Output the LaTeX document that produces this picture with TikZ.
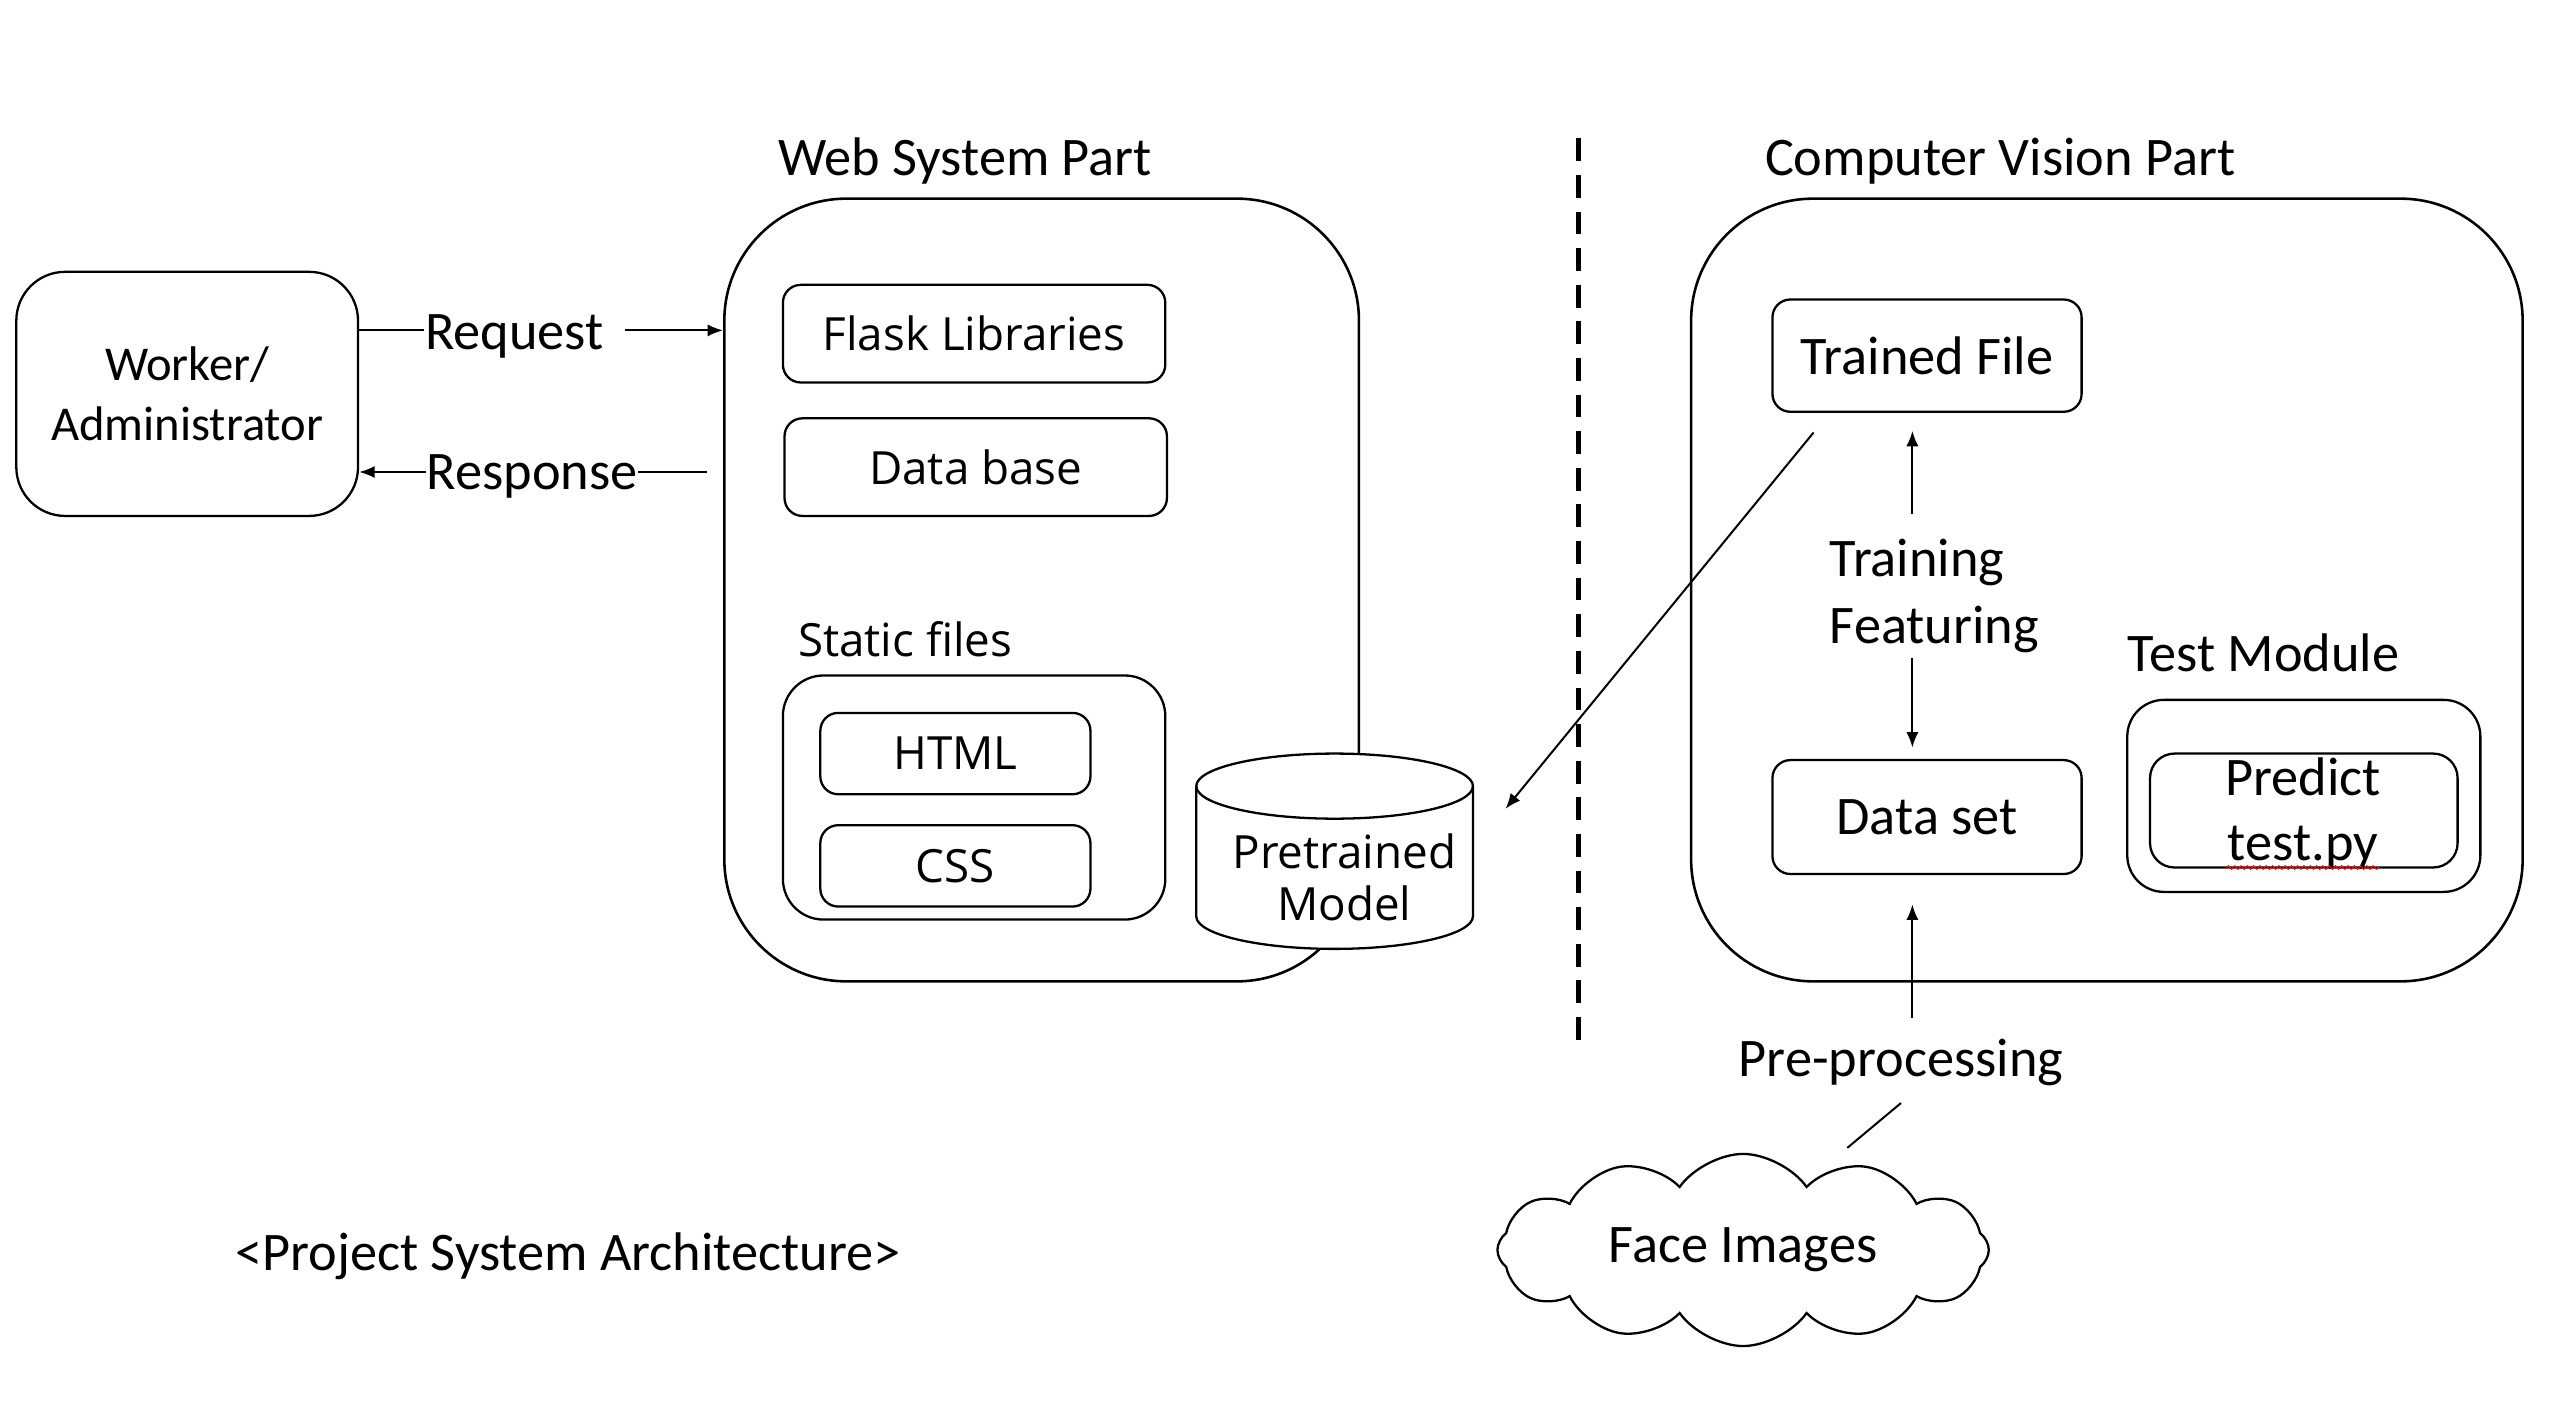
\documentclass[tikz,border=0pt]{standalone}
\usepackage{fontspec}
\setmainfont{Carlito}
\newfontfamily\webfont{Open Sans}
\usetikzlibrary{shapes.symbols,calc,decorations.pathmorphing,arrows.meta}

\begin{document}
\begin{tikzpicture}[x=0.02cm, y=0.02cm,
					every node/.style={font=\fontsize{19}{23.3}\selectfont},
					txt/.style={inner sep=0pt},
					webtxt/.style={font=\webfont\fontsize{16}{19}\selectfont},
					partbox/.style={rectangle,
					rounded corners=1.5cm,
					line width=0.9pt,
					draw=black},
					webbox/.style={rectangle,
					rounded corners=0.22cm,
					line width=0.8pt,
					draw=black,
					font=\webfont\fontsize{16}{19}\selectfont},
					cvbox/.style={rectangle,
					rounded corners=0.22cm,
					line width=0.8pt,
					draw=black},
					flow/.style={-{Latex[length=0.19cm,width=0.15cm]}, line width=0.7pt}
					]

% fixed page size, same proportions as the original slide
\useasboundingbox (0,0) rectangle (1568,-877);

%user node
\node[draw, rounded corners=0.6cm, line width=0.8pt, minimum width=4.2cm, minimum height=3cm,
      align=center, font=\fontsize{17}{21}\selectfont] (worker) at (115,-242) {Worker/\\Administrator};

%web system part
\node[txt] (webtitle) at (593,-99) {Web System Part};
\node[partbox, minimum width=7.8cm, minimum height=9.62cm] (web) at (640,-362.5) {};
\node[webbox, minimum width=4.7cm, minimum height=1.2cm] (flask) at (598.5,-205) {Flask Libraries};
\node[webbox, minimum width=4.7cm, minimum height=1.2cm] (db) at (599.5,-287) {Data base};
\node[txt, webtxt, anchor=west] (statictitle) at (490,-393) {Static files};
\node[draw, rounded corners=0.5cm, line width=0.8pt, minimum width=4.7cm, minimum height=3cm] (static) at (598.5,-490) {};
\node[webbox, minimum width=3.32cm, minimum height=1cm] (html) at (587,-463) {HTML};
\node[webbox, minimum width=3.32cm, minimum height=1cm] (css) at (587,-532) {CSS};

%pretrained model (cylinder covers the corner of the web box)
\coordinate (cyl) at (820,-523);
\draw[fill=white, line width=0.8pt] ($(cyl)+(-85,40)$) -- ($(cyl)+(-85,-40)$)
      arc[start angle=180, end angle=360, x radius=85, y radius=20] -- ($(cyl)+(85,40)$)
      arc[start angle=0, end angle=180, x radius=85, y radius=20] -- cycle;
\draw[line width=0.8pt] ($(cyl)+(-85,40)$) arc[start angle=180, end angle=360, x radius=85, y radius=20];
\node[txt, webtxt, align=center, font=\webfont\fontsize{16}{18}\selectfont] (model) at (826,-539) {Pretrained\\Model};

%request / response
\node[txt] (req) at (316,-207) {Request};
\node[txt] (resp) at (327,-293) {Response};
\draw[line width=0.7pt] (worker.east |- 0,-203) -- (req.west |- 0,-203);
\draw[flow] ($(req.east |- 0,-203)+(13,0)$) -- (web.west |- 0,-203);
\draw[flow] (resp.west |- 0,-290) -- (worker.east |- 0,-290);
\draw[line width=0.7pt] (resp.east |- 0,-290) -- ($(web.west |- 0,-290)+(-10,0)$);

%separator
\draw[line width=1.9pt, dash pattern=on 0.28cm off 0.17cm] (970,-85) -- (970,-640);

%computer vision part
\node[txt] (cvtitle) at (1229,-99) {Computer Vision Part};
\node[partbox, minimum width=10.22cm, minimum height=9.62cm] (cv) at (1294.5,-362.5) {};
\node[cvbox, minimum width=3.8cm, minimum height=1.38cm] (trained) at (1184,-218.5) {Trained File};
\node[txt, align=left, anchor=west] (training) at (1124,-366) {Training\\Featuring};
\node[cvbox, minimum width=3.8cm, minimum height=1.4cm] (dataset) at (1184,-502) {Data set};

\draw[flow] ($(trained.south)+(-9,-62)$) -- ($(trained.south)+(-9,-11)$);
\draw[flow] ($(dataset.north)+(-9,62)$) -- ($(dataset.north)+(-9,7)$);

%trained file goes to the web part
\draw[flow] ($(trained.south west)+(26,-12)$) -- ($(cyl)+(105,26)$);

%test module
\node[txt, anchor=west] (testtitle) at (1307,-401) {Test Module};
\node[draw, rounded corners=0.45cm, line width=0.8pt, minimum width=4.34cm, minimum height=2.36cm] (testbox) at (1415.5,-489) {};
\node[cvbox, rounded corners=0.3cm, minimum width=3.78cm, minimum height=1.4cm] (predict) at (1415.5,-498) {};
\node[txt, align=center, font=\fontsize{19}{22.7}\selectfont] (predicttext) at (1415,-500) {Predict\\test.py};
\draw[red, line width=0.4pt, decorate, decoration={snake, amplitude=0.6pt, segment length=2.2pt}] (1368,-533) -- (1462,-533);

%face images input
\node[txt] (preproc) at (1168,-653) {Pre-processing};
\node[cloud, draw, line width=0.8pt, cloud puffs=12, cloud puff arc=110, aspect=2.6, minimum width=6.04cm, minimum height=2.3cm, inner sep=0pt] (cloud) at (1071,-768) {Face Images};
\draw[flow] ($(dataset.south)+(-9,-88)$) -- ($(dataset.south)+(-9,-18)$);
\draw[line width=0.7pt] ($(preproc.south)+(0,-10)$) -- ($(cloud.north)+(64,3)$);

%caption
\node[txt] (caption) at (349,-772) {<Project System Architecture>};

\end{tikzpicture}
\end{document}
